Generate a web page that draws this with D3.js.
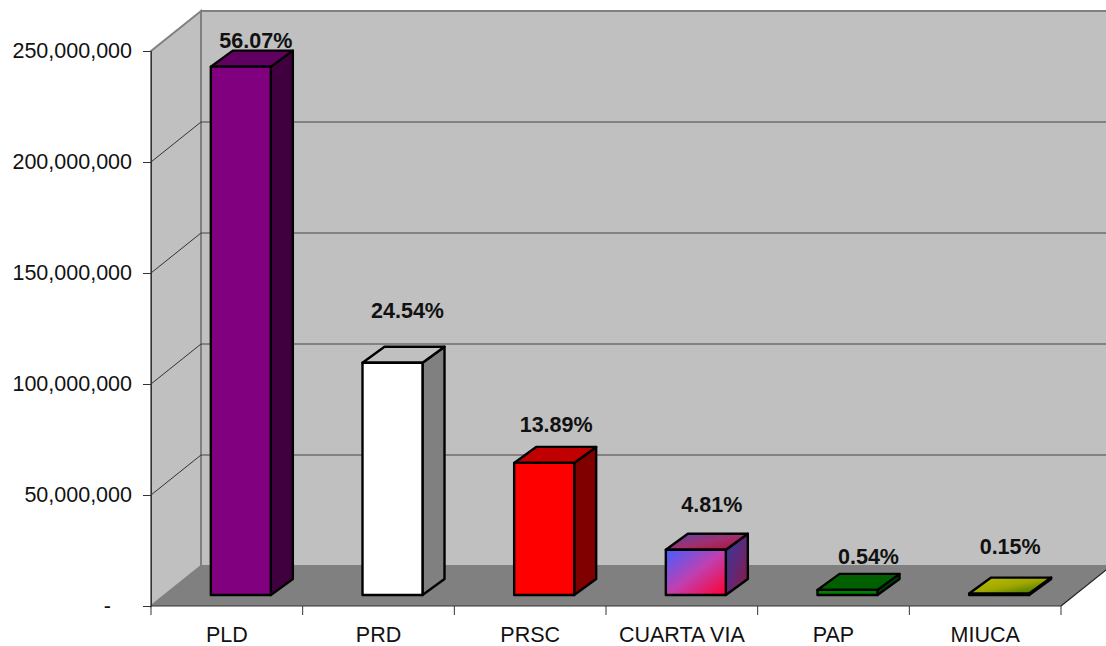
<!DOCTYPE html>
<html>
<head>
<meta charset="utf-8">
<script src="https://cdn.jsdelivr.net/npm/d3@7"></script>
<style>
  html, body { margin: 0; padding: 0; background: #fff; }
  svg { display: block; }
  text { font-family: "Liberation Sans", Arial, sans-serif; fill: #000; }
  .axis path, .axis line { stroke: #333; }
  .axis text { font-size: 21.5px; fill: #111; }
  .pct { font-size: 21.5px; font-weight: bold; text-anchor: middle; fill: #111; }
</style>
</head>
<body>
<svg id="chart" width="1106" height="646"></svg>
<script>
const categories = ['PLD', 'PRD', 'PRSC', 'CUARTA VIA', 'PAP', 'MIUCA'];
const values = [238000000, 104600000, 59500000, 20400000, 2300000, 640000];
const percents = ['56.07%', '24.54%', '13.89%', '4.81%', '0.54%', '0.15%'];
const yTicks = [0, 50000000, 100000000, 150000000, 200000000, 250000000];

const W = 1106, H = 646;
const plotL = 151, plotR = 1061, plotT = 51, plotB = 606;
const depthX = 50, depthY = 40;   // wall depth
const barDepthX = 22, barDepthY = 16;
const barShiftX = 14, barShiftY = 11, barW = 60;

// label placement relative to its bar, by eye
const labelLift = [9, 35, 21, 28, 16, 30];
const labelNudge = [0, 0, -3, 1, 6, -4];

const svg = d3.select('#chart');
const defs = svg.append('defs');

const x = d3.scaleBand().domain(categories).range([plotL, plotR]);
const y = d3.scaleLinear().domain([0, 250000000]).range([plotB, plotT]);

function addGradient(id, stops) {
  const g = defs.append('linearGradient').attr('id', id)
    .attr('x1', 0).attr('y1', 0).attr('x2', 1).attr('y2', 1);
  stops.forEach((c, i) => g.append('stop').attr('offset', i / (stops.length - 1)).attr('stop-color', c));
}
addGradient('cvFront', ['#4060ff', '#c040b0', '#ff0030']);
addGradient('cvTop', ['#5048b0', '#a03070', '#b01030']);
addGradient('cvSide', ['#303c98', '#602878', '#901838']);
addGradient('miFront', ['#c0c000', '#a8a800', '#206000']);
addGradient('miTop', ['#c0c000', '#a0a800', '#306800']);

const barStyles = [
  { front: '#800080', top: '#600060', side: '#400040' },
  { front: '#ffffff', top: '#c0c0c0', side: '#808080' },
  { front: '#ff0000', top: '#c00000', side: '#800000' },
  { front: 'url(#cvFront)', top: 'url(#cvTop)', side: 'url(#cvSide)' },
  { front: '#008000', top: '#006000', side: '#004000' },
  { front: 'url(#miFront)', top: 'url(#miTop)', side: '#406000' }
];

const poly = pts => pts.map(p => p.join(',')).join(' ');

// walls and floor
const gWalls = svg.append('g');
gWalls.append('rect')
  .attr('x', plotL + depthX).attr('y', plotT - depthY)
  .attr('width', W - plotL - depthX + 5).attr('height', plotB - plotT)
  .attr('fill', '#c0c0c0').attr('stroke', '#808080').attr('stroke-width', 2);
gWalls.append('polygon')
  .attr('points', poly([[plotL, plotT], [plotL + depthX, plotT - depthY], [plotL + depthX, plotB - depthY], [plotL, plotB]]))
  .attr('fill', '#c0c0c0').attr('stroke', '#808080').attr('stroke-width', 2);
gWalls.append('polygon')
  .attr('points', poly([[plotL, plotB], [plotL + depthX, plotB - depthY], [W + 5, plotB - depthY], [plotR + depthX, plotB - depthY], [plotR, plotB]]))
  .attr('fill', '#808080');

// gridlines, back wall and the slant on the side wall
const gGrid = svg.append('g');
yTicks.slice(1, -1).forEach(t => {
  gGrid.append('line')
    .attr('x1', plotL + depthX).attr('x2', W)
    .attr('y1', y(t) - depthY).attr('y2', y(t) - depthY)
    .attr('stroke', '#444').attr('stroke-width', 1.2);
  gGrid.append('line')
    .attr('x1', plotL).attr('x2', plotL + depthX)
    .attr('y1', y(t)).attr('y2', y(t) - depthY)
    .attr('stroke', '#333').attr('stroke-width', 1);
});
gGrid.append('line')
  .attr('x1', plotR).attr('x2', plotR + depthX)
  .attr('y1', plotB).attr('y2', plotB - depthY)
  .attr('stroke', '#222').attr('stroke-width', 1.2);

// bars
const gBars = svg.append('g');
categories.forEach((c, i) => {
  const x0 = x(c) + (x.bandwidth() - barW) / 2 + barShiftX;
  const x1 = x0 + barW;
  const yTop = y(values[i]) - barShiftY;
  const yBase = y(0) - barShiftY;
  const s = barStyles[i];
  const g = gBars.append('g')
    .attr('stroke', '#000').attr('stroke-width', 2.4).attr('stroke-linejoin', 'round');
  g.append('polygon')
    .attr('points', poly([[x1, yTop], [x1 + barDepthX, yTop - barDepthY], [x1 + barDepthX, yBase - barDepthY], [x1, yBase]]))
    .attr('fill', s.side);
  g.append('polygon')
    .attr('points', poly([[x0, yTop], [x0 + barDepthX, yTop - barDepthY], [x1 + barDepthX, yTop - barDepthY], [x1, yTop]]))
    .attr('fill', s.top);
  g.append('rect')
    .attr('x', x0).attr('y', yTop).attr('width', barW).attr('height', yBase - yTop)
    .attr('fill', s.front);

  svg.append('text')
    .attr('class', 'pct')
    .attr('x', x0 + barW / 2 + barDepthX / 2 + 4 + labelNudge[i])
    .attr('y', yTop - barDepthY - labelLift[i] + 6)
    .text(percents[i]);
});

// axes
const yAxis = d3.axisLeft(y)
  .tickValues(yTicks)
  .tickSize(8)
  .tickPadding(11)
  .tickFormat(d => d === 0 ? '-' : d3.format(',')(d));
const gy = svg.append('g').attr('class', 'axis').attr('transform', `translate(${plotL},0)`).call(yAxis);
// the zero tick is an accounting dash, it sits in from the right edge
gy.selectAll('.tick').filter(d => d === 0).select('text').attr('dx', -21);

const xAxis = d3.axisBottom(x).tickSize(0).tickPadding(21);
const gx = svg.append('g').attr('class', 'axis').attr('transform', `translate(0,${plotB})`).call(xAxis);
gx.select('.domain').attr('d', `M${plotL},0H${plotR}`);
d3.range(categories.length + 1).forEach(i => {
  gx.append('line')
    .attr('x1', plotL + i * x.step()).attr('x2', plotL + i * x.step())
    .attr('y1', 0).attr('y2', 9);
});
</script>
</body>
</html>
